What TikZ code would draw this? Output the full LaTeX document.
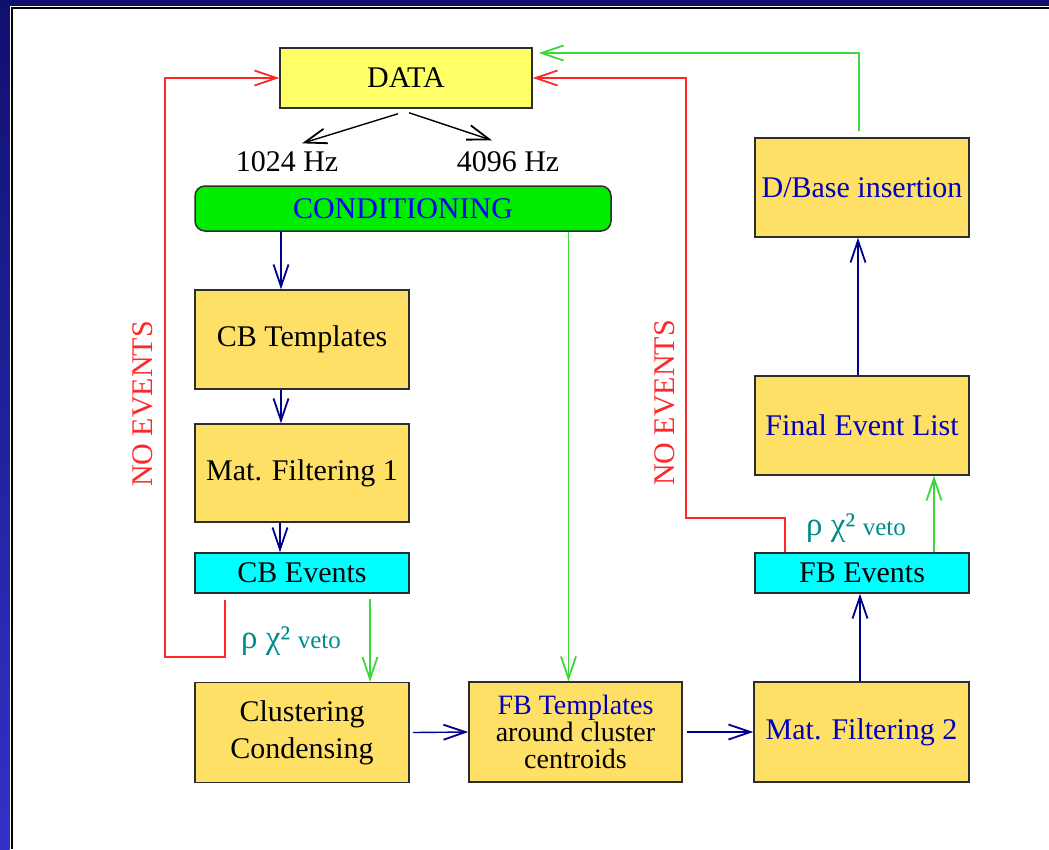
\documentclass[tikz,border=0pt]{standalone}
\usepackage{fontspec}
\setmainfont{Liberation Serif}
\usetikzlibrary{arrows.meta}

\definecolor{frameblue}{RGB}{16,16,112}
\definecolor{framelight}{RGB}{50,50,200}
\definecolor{boxyellow}{RGB}{255,224,102}
\definecolor{datayellow}{RGB}{255,255,102}
\definecolor{evcyan}{RGB}{0,255,255}
\definecolor{condgreen}{RGB}{0,236,0}
\definecolor{linegreen}{RGB}{60,215,60}
\definecolor{linered}{RGB}{255,40,40}
\definecolor{linenavy}{RGB}{0,0,140}
\definecolor{textblue}{RGB}{0,0,190}
\definecolor{vetoteal}{RGB}{0,140,140}

\tikzset{
    stagebox/.style={draw={rgb,255:red,45;green,45;blue,45}, line width=1.5pt,
        fill=boxyellow, minimum width=214pt, minimum height=99pt, inner sep=0pt, align=center},
    eventbox/.style={stagebox, fill=evcyan, minimum height=40pt},
    tip/.style={-{Straight Barb[length=22pt,width=15pt,line width=1.8pt]}, line width=1.4pt},
    bluearrow/.style={tip, linenavy},
    greenarrow/.style={tip, linegreen},
    noevents/.style={tip, linered},
    vetolabel/.style={vetoteal, inner sep=0pt}
}

\begin{document}
\begin{tikzpicture}[x=1pt, y=-1pt, every node/.style={font=\fontsize{30}{32}\selectfont}]
    \useasboundingbox (0,0) rectangle (1049,849);
    % Frame of the slide.
        \fill[frameblue] (0,0) rectangle (1049,5.5);
        \shade[top color=frameblue, bottom color=framelight] (0,0) rectangle (9.5,849);
        \draw[black, line width=2.6pt] (11.8,849) -- (11.8,8) -- (1049,8);

    % The boxes.
        \node[stagebox, fill=datayellow, minimum width=252pt, minimum height=60pt] (data) at (406,78) {DATA};
        \node[] (hzlow) at (287,162) {1024 Hz};
        \node[] (hzhigh) at (508,162) {4096 Hz};
        \node[stagebox, fill=condgreen, rounded corners=10pt, minimum width=416pt, minimum height=45pt,
            text=blue] (cond) at (403,208.5) {CONDITIONING};
        \node[stagebox] (cbtempl) at (302,339.5) {CB Templates};
        \node[stagebox, minimum height=98pt] (matfilt1) at (302,473) {Mat. Filtering 1};
        \node[eventbox] (cbevents) at (302,573) {CB Events};
        \node[stagebox, minimum height=100pt, font=\fontsize{30}{37}\selectfont] (cluster) at (302,732.5) {Clustering\\Condensing};
        \node[stagebox, minimum width=213pt, minimum height=100pt, font=\fontsize{28}{27}\selectfont] (fbtempl) at (575.5,732)
            {\textcolor{textblue}{FB Templates}\\around cluster\\centroids};
        \node[stagebox, minimum width=215pt, minimum height=100pt, text=textblue] (matfilt2) at (861.5,732) {Mat. Filtering 2};
        \node[eventbox] (fbevents) at (862,573) {FB Events};
        \node[stagebox, text=textblue] (finallist) at (862,425.5) {Final Event List};
        \node[stagebox, text=textblue] (dbase) at (862,187.5) {D/Base insertion};

    % Below nodes are the labels.
        \node[vetolabel] (vetocb) at (291,641) {{\fontsize{33}{33}\selectfont ρ χ²} {\fontsize{25}{25}\selectfont veto}};
        \node[vetolabel] (vetofb) at (856,528) {{\fontsize{33}{33}\selectfont ρ χ²} {\fontsize{25}{25}\selectfont veto}};
        \node[linered, rotate=90] (noevleft) at (143,404) {NO EVENTS};
        \node[linered, rotate=90] (noevright) at (665,403) {NO EVENTS};
        \coordinate (leftturn) at (165,657);
        \coordinate (rightturn) at (686,518);

    % Sampling rates.
        \draw[black, tip] ([shift={(-8pt,-5pt)}]data.south) -- ([shift={(15pt,5pt)}]hzlow.north);
        \draw[black, tip] ([shift={(3pt,-4pt)}]data.south) -- ([shift={(-16pt,8pt)}]hzhigh.north);

    % Left branch.
        \draw[bluearrow] ([xshift=-21pt]cbtempl.north |- cond.south) -- ([xshift=-21pt]cbtempl.north);
        \draw[bluearrow] ([xshift=-21pt]cbtempl.south) -- ([xshift=-21pt]matfilt1.north);
        \draw[bluearrow] ([xshift=-22pt]matfilt1.south) -- ([xshift=-22pt]cbevents.north);
        \draw[greenarrow] ([shift={(68pt,-5pt)}]cbevents.south) -- ([xshift=68pt]cluster.north);
        \draw[noevents] ([shift={(-77pt,-6pt)}]cbevents.south) |- (leftturn) |- (data.west);

    % Bottom row.
        \draw[greenarrow] ([xshift=-7pt]fbtempl.north |- cond.south) -- ([xshift=-7pt]fbtempl.north);
        \draw[bluearrow] ([xshift=3pt]cluster.east) -- (fbtempl.west);
        \draw[bluearrow] ([xshift=4pt]fbtempl.east) -- (matfilt2.west);

    % Right branch.
        \draw[bluearrow] ([xshift=-1.5pt]matfilt2.north) -- ([xshift=-2pt]fbevents.south);
        \draw[greenarrow] ([xshift=72pt]fbevents.north) -- ([xshift=72pt]finallist.south);
        \draw[bluearrow] ([xshift=-4pt]finallist.north) -- ([xshift=-4pt]dbase.south);
        \draw[noevents] ([xshift=-77pt]fbevents.north) |- (rightturn) |- (data.east);
        \draw[greenarrow] ([shift={(-3pt,6pt)}]dbase.north) |- ([shift={(6pt,25pt)}]data.east);
\end{tikzpicture}
\end{document}
